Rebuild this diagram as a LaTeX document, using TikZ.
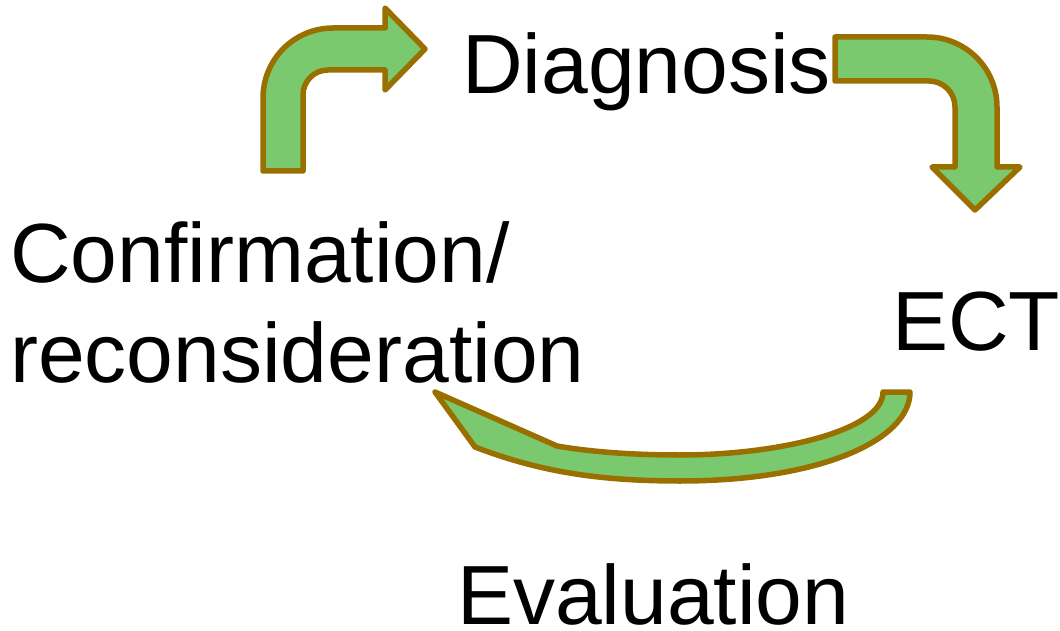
\documentclass[tikz,border=0pt]{standalone}
\usepackage{fontspec}
\setmainfont{Liberation Sans}
\definecolor{arrowfill}{RGB}{122,201,110}
\definecolor{arrowedge}{RGB}{153,112,0}
\begin{document}
\begin{tikzpicture}[x=1bp,y=-1bp,
  lbl/.style={anchor=base west,inner sep=0pt,font=\fontsize{84bp}{100bp}\selectfont},
  blockarrow/.style={fill=arrowfill,draw=arrowedge,line width=5.5bp,line join=round}]
\useasboundingbox (0,0) rectangle (1060,631);

\node[lbl] (diag) at (462,94) {Diagnosis};
\node[lbl] (conf) at (10,283) {Confirmation/};
\node[lbl] (recon) at (10,382) {reconsideration};
\node[lbl] (ect) at (892,350) {ECT};
\node[lbl] (eval) at (457,624) {Evaluation};

% up and over to the right
\draw[blockarrow] (263,171)--(263,98) arc[start angle=180,end angle=270,radius=70]
  --(385,28)--(385,8)--(425,49)--(385,90)--(385,70)--(328,70)
  arc[start angle=270,end angle=180,radius=25]--(303,171)--cycle;

% across and down
\draw[blockarrow] (835,37)--(927,37) arc[start angle=270,end angle=360,radius=70]
  --(997,167)--(1020,167)--(975,210)--(932,167)--(955,167)--(955,107)
  arc[start angle=0,end angle=-90,radius=26]--(835,81)--cycle;

% long curved one back to the left
\draw[blockarrow] (883,392)--(910,392)
  .. controls (910,440) and (820,481) .. (680,481)
  .. controls (600,481) and (540,472) .. (475,447)
  --(435,392)--(557,446)
  .. controls (580,450) and (620,455) .. (680,455)
  .. controls (780,455) and (883,430) .. (883,392)--cycle;

\end{tikzpicture}
\end{document}
